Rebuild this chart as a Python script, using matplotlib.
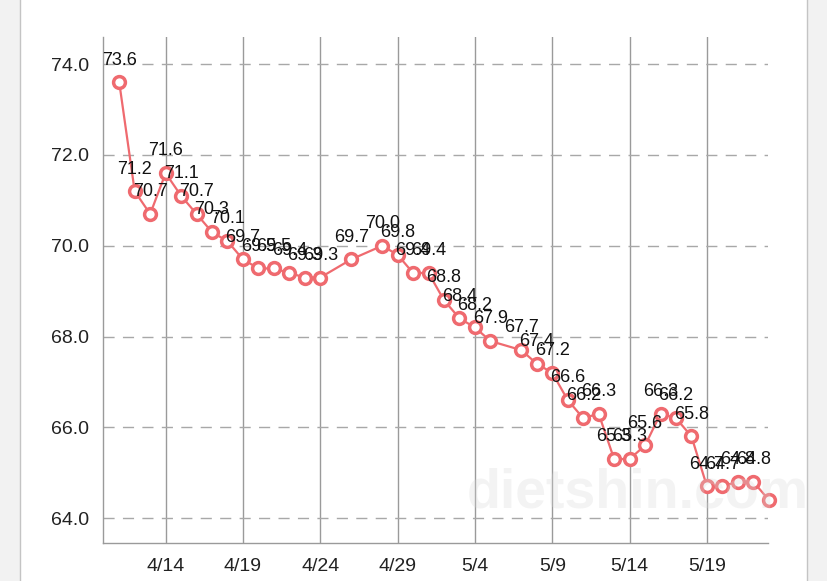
import datetime as dt
import matplotlib
matplotlib.use('Agg')
import matplotlib.pyplot as plt
import matplotlib.dates as mdates
from matplotlib.patches import Rectangle
from matplotlib.lines import Line2D

# weigh-in log (month/day) and weight in kg
days = ['4/11', '4/12', '4/13', '4/14', '4/15', '4/16', '4/17', '4/18', '4/19', '4/20',
        '4/21', '4/22', '4/23', '4/24', '4/26', '4/28', '4/29', '4/30', '5/1', '5/2',
        '5/3', '5/4', '5/5', '5/7', '5/8', '5/9', '5/10', '5/11', '5/12', '5/13',
        '5/14', '5/15', '5/16', '5/17', '5/18', '5/19', '5/20', '5/21', '5/22', '5/23']
weights = [73.6, 71.2, 70.7, 71.6, 71.1, 70.7, 70.3, 70.1, 69.7, 69.5,
           69.5, 69.4, 69.3, 69.3, 69.7, 70.0, 69.8, 69.4, 69.4, 68.8,
           68.4, 68.2, 67.9, 67.7, 67.4, 67.2, 66.6, 66.2, 66.3, 65.3,
           65.3, 65.6, 66.3, 66.2, 65.8, 64.7, 64.7, 64.8, 64.8, 64.4]
tick_days = ['4/14', '4/19', '4/24', '4/29', '5/4', '5/9', '5/14', '5/19']
y_ticks = [64.0, 66.0, 68.0, 70.0, 72.0, 74.0]


def to_date(s):
    m, d = s.split('/')
    return dt.date(2018, int(m), int(d))


x = [to_date(d) for d in days]
xt = [to_date(d) for d in tick_days]

plt.rcParams['font.family'] = ['Liberation Sans', 'DejaVu Sans']

fig = plt.figure(figsize=(8.28, 5.81), dpi=100)
fig.patch.set_facecolor('white')

# grey side strips of the screenshot
for x0 in (0, 807 / 828):
    fig.patches.append(Rectangle((x0, 0), 21 / 828, 1, transform=fig.transFigure,
                                 facecolor='#f2f2f2', edgecolor='none', zorder=0))
fig.lines.append(Line2D([20.5 / 828] * 2, [0, 1], transform=fig.transFigure, color='#c4c4c4', lw=1))
fig.lines.append(Line2D([807 / 828] * 2, [0, 1], transform=fig.transFigure, color='#c4c4c4', lw=1))

ax = fig.add_axes([103 / 828, 1 - 543 / 581, (768 - 103) / 828, (543 - 37) / 581])
line_color = '#ef6a6f'

ax.plot(x, weights, color=line_color, lw=1.6, marker='o', markersize=8.5,
        markerfacecolor='white', markeredgecolor=line_color, markeredgewidth=2.5,
        zorder=3, clip_on=False)

for xi, v in zip(x, weights):
    ax.annotate(f'{v:.1f}', (xi, v), xytext=(0, 16), textcoords='offset points',
                ha='center', va='center', fontsize=13, color='#111111', zorder=4)

ax.set_xlim(mdates.date2num(to_date('4/11')) - 1.05, mdates.date2num(to_date('5/23')) - 0.05)
ax.set_ylim(63.45, 74.6)

ax.set_xticks(xt)
ax.set_xticklabels(tick_days)
ax.set_yticks(y_ticks)
ax.set_yticklabels([f'{t:.1f}' for t in y_ticks])
ax.tick_params(axis='both', length=0, labelsize=14, colors='#222222')
ax.tick_params(axis='x', pad=11)
ax.tick_params(axis='y', pad=10)

for t in xt:
    ax.axvline(t, color='#9a9a9a', lw=1, zorder=1)
for t in y_ticks:
    ax.axhline(t, color='#a8a8a8', lw=1, dashes=(8, 6), zorder=1)

for s in ('top', 'right'):
    ax.spines[s].set_visible(False)
for s in ('left', 'bottom'):
    ax.spines[s].set_color('#9a9a9a')
    ax.spines[s].set_linewidth(1)

# faint site watermark
fig.text(0.77, 0.15, 'dietshin.com', fontsize=40, color='#d8d8d8', alpha=0.3,
         ha='center', va='center', fontweight='bold', zorder=10)

fig.savefig('out.png', dpi=100)
